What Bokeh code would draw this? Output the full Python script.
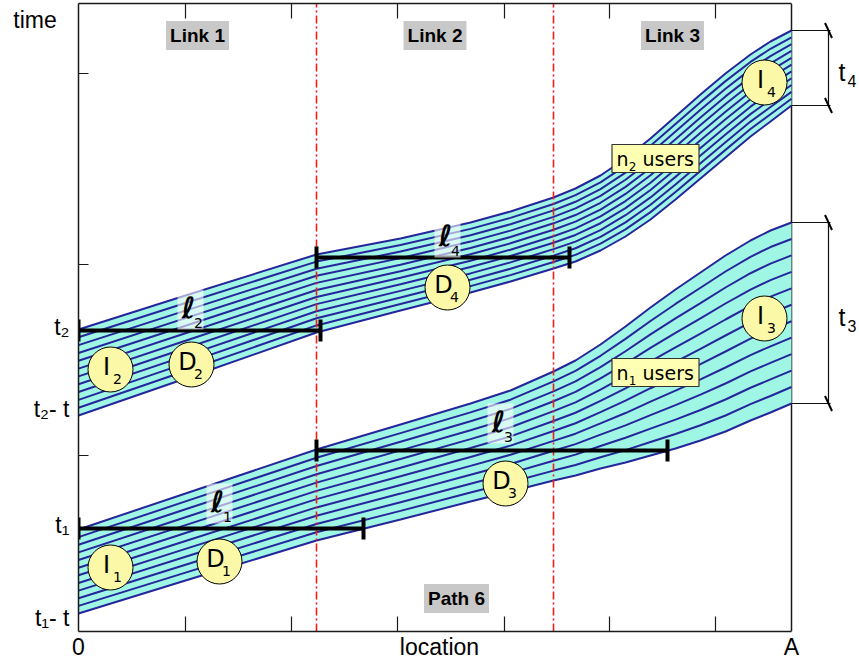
import numpy as np
from bokeh.plotting import figure
from bokeh.models import Range1d, LinearAxis, FixedTicker, Label
from bokeh.core.properties import value
from bokeh.embed import file_html
from bokeh.resources import INLINE

# ---------------- data (diagram units: x = location, y = time) ----------------
A = 713
link_edges = [0, 238, 475, 713]
link_names = ["Link 1", "Link 2", "Link 3"]
path_name = "Path 6"
x_minor_ticks = [107, 213, 319, 426, 531, 637]
y_minor_ticks = [176, 367, 558]
n_lines = 12

band_x = [0, 107, 238, 322, 392, 432, 475, 497, 522, 547, 572, 597, 622, 647, 672, 692, 713]
path2_top = [302, 336, 377, 393, 409, 420, 434, 443, 456, 473, 493, 515, 537, 558, 577, 590, 601]
path2_bot = [216, 253, 299, 321, 339, 350, 363, 370, 381, 395, 412, 432, 453, 474, 495, 510, 526]
path1_top = [102, 138, 182, 207, 228, 241, 260, 271, 287, 305, 324, 342, 359, 376, 391, 401, 409]
path1_bot = [18, 51, 91, 112, 130, 140, 151, 156, 163, 169, 176, 183, 191, 200, 211, 219, 228]

ell_sub = ["1", "2", "3", "4"]
ell_y = [103, 301, 181, 374]
ell_start = [0, 0, 238, 238]
ell_end = [285, 242, 589, 491]

circ_text = ["I", "D", "I", "D", "D", "D", "I", "I"]
circ_sub = ["1", "1", "2", "2", "3", "4", "3", "4"]

y_tick_pos = [612, 305, 223, 107, 14]
y_tick_text = ["time\u00a0\u00a0", "t\u2082", "t\u2082- t", "t\u2081", "t\u2081- t"]
x_tick_pos = [0, 361, A]
x_tick_text = ["0", "location", "A"]

# ---------------- figure ----------------
p = figure(width=859, height=664, output_backend="svg", toolbar_location=None,
           x_range=Range1d(0, 781), y_range=Range1d(0, 628),
           x_axis_location=None, y_axis_location=None,
           min_border_left=78, min_border_right=0, min_border_top=3, min_border_bottom=33)
p.grid.visible = False
p.outline_line_color = None
p.background_fill_color = "white"

AX = "#1a1a1a"
axis_style = dict(axis_line_color=AX, axis_line_width=1.5, major_tick_in=0, major_tick_out=0,
                  minor_tick_out=0, minor_tick_line_color=AX, minor_tick_line_width=1.2)
bottom = LinearAxis(ticker=FixedTicker(ticks=x_tick_pos, minor_ticks=x_minor_ticks), bounds=(0, A),
                    major_label_overrides=dict(zip(x_tick_pos, x_tick_text)), minor_tick_in=15,
                    major_label_text_font="Liberation Sans", major_label_text_font_size="23px",
                    major_label_text_color="black", major_label_standoff=2, **axis_style)
top = LinearAxis(ticker=FixedTicker(ticks=[], minor_ticks=x_minor_ticks), bounds=(0, A),
                 minor_tick_in=15, major_label_text_font_size="0px", major_label_standoff=0,
                 **axis_style)
left = LinearAxis(ticker=FixedTicker(ticks=y_tick_pos, minor_ticks=y_minor_ticks), minor_tick_in=10,
                  major_label_overrides=dict(zip(y_tick_pos, y_tick_text)),
                  major_label_text_font="Liberation Sans", major_label_text_font_size="23px",
                  major_label_text_color="black", major_label_standoff=9, **axis_style)
p.add_layout(bottom, "below")
p.add_layout(top, "above")
p.add_layout(left, "left")

# right edge of the box and its tick
p.segment(x0=[A], y0=[0], x1=[A], y1=[628], line_color=AX, line_width=1.5)
p.segment(x0=[A - 8], y0=[y_minor_ticks[1]], x1=[A], y1=[y_minor_ticks[1]], line_color=AX, line_width=1.2)

# ---------------- user bands ----------------
for tp, bt in [(path1_top, path1_bot), (path2_top, path2_bot)]:
    p.varea(x=band_x, y1=bt, y2=tp, fill_color="#a0f6e4")
    t = np.array(tp, dtype=float)
    b = np.array(bt, dtype=float)
    ys = [list(t + (b - t) * k / (n_lines - 1)) for k in range(n_lines)]
    p.multi_line([band_x] * n_lines, ys, line_color="#25259c", line_width=2)

# link boundaries
p.segment(x0=link_edges[1:3], y0=[0, 0], x1=link_edges[1:3], y1=[628, 628],
          line_color="#ee1c1c", line_width=1.6, line_dash="8 3 2 3")

# ---------------- ell bars ----------------
ey = np.array(ell_y, dtype=float)
p.segment(x0=ell_start, y0=ell_y, x1=ell_end, y1=ell_y, line_color="black", line_width=4)
p.segment(x0=ell_start, y0=list(ey - 11), x1=ell_start, y1=list(ey + 11), line_color="black", line_width=4)
p.segment(x0=ell_end, y0=list(ey - 11), x1=ell_end, y1=list(ey + 11), line_color="black", line_width=4)

ell_lab_x = [141, 112, 422, 369]
ell_lab_y = [128, 322, 208, 394]
p.rect(ell_lab_x, ell_lab_y, width=26, height=40, width_units="screen", height_units="screen",
       fill_color="white", fill_alpha=0.6, line_color=None)
p.text(ell_lab_x, ell_lab_y, text=["\u2113"] * 4, x_offset=-2, y_offset=-2,
       text_font=value("DejaVu Sans"), text_font_style="bold italic", text_font_size="29px",
       text_align="center", text_baseline="middle", text_color="black")
p.text(ell_lab_x, ell_lab_y, text=ell_sub, x_offset=8, y_offset=13,
       text_font=value("DejaVu Sans"), text_font_size="14px",
       text_align="center", text_baseline="middle", text_color="black")

# ---------------- circles ----------------
circ_x = [32, 141, 32, 113, 427, 369, 686, 686]
circ_y = [64, 70, 262, 267, 148, 344, 313, 549]
p.scatter(circ_x, circ_y, marker="circle", size=45, fill_color="#fbf9a8", line_color="black", line_width=1)
p.text(circ_x, circ_y, text=circ_text, x_offset=-4, y_offset=-3,
       text_font=value("DejaVu Sans"), text_font_size="24px",
       text_align="center", text_baseline="middle", text_color="black")
p.text(circ_x, circ_y, text=circ_sub, x_offset=7, y_offset=9,
       text_font=value("DejaVu Sans"), text_font_size="14px",
       text_align="center", text_baseline="middle", text_color="black")

# ---------------- n users boxes ----------------
nb_x = [577, 577]
nb_y = [259, 473]
p.rect(nb_x, nb_y, width=87, height=28, width_units="screen", height_units="screen",
       fill_color="#ffffb4", line_color="#333333", line_width=1.2)
p.text(nb_x, nb_y, text=["n", "n"], x_offset=-33, y_offset=0,
       text_font=value("DejaVu Sans"), text_font_size="19px",
       text_align="center", text_baseline="middle", text_color="black")
p.text(nb_x, nb_y, text=["1", "2"], x_offset=-23, y_offset=8,
       text_font=value("DejaVu Sans"), text_font_size="12px",
       text_align="center", text_baseline="middle", text_color="black")
p.text(nb_x, nb_y, text=["users", "users"], x_offset=-13, y_offset=0,
       text_font=value("DejaVu Sans"), text_font_size="19px",
       text_align="left", text_baseline="middle", text_color="black")

# ---------------- right brackets ----------------
bx = A + 37
for tp, bt, sub in [(path2_top[-1], path2_bot[-1], "4"), (path1_top[-1], path1_bot[-1], "3")]:
    p.segment(x0=[A, A], y0=[tp, bt], x1=[bx + 2, bx + 2], y1=[tp, bt], line_color="#111111", line_width=1.2)
    p.segment(x0=[bx], y0=[bt], x1=[bx], y1=[tp], line_color="#111111", line_width=1.2)
    p.segment(x0=[bx - 3.5, bx - 3.5], y0=[tp + 7.5, bt + 7.5], x1=[bx + 3.5, bx + 3.5],
              y1=[tp - 7.5, bt - 7.5], line_color="black", line_width=2)
    mid = (tp + bt) / 2
    p.text([bx + 10], [mid - 4], text=["t"], text_font=value("Liberation Sans"), text_font_size="25px",
           text_align="left", text_baseline="middle", text_color="black")
    p.text([bx + 19], [mid - 13], text=[sub], text_font=value("Liberation Sans"), text_font_size="16px",
           text_align="left", text_baseline="middle", text_color="black")

# ---------------- link / path labels ----------------
for i, name in enumerate(link_names):
    cx = (link_edges[i] + link_edges[i + 1]) / 2
    p.add_layout(Label(x=cx, y=596, text=name, text_font="Liberation Sans", text_font_style="bold",
                       text_font_size="19px", text_align="center", text_baseline="middle",
                       text_color="black", background_fill_color="#c8c8c8", padding=4))
p.add_layout(Label(x=378, y=33, text=path_name, text_font="Liberation Sans", text_font_style="bold",
                   text_font_size="19px", text_align="center", text_baseline="middle",
                   text_color="black", background_fill_color="#c8c8c8", padding=4))

open("out.html", "w").write(file_html(p, INLINE))
